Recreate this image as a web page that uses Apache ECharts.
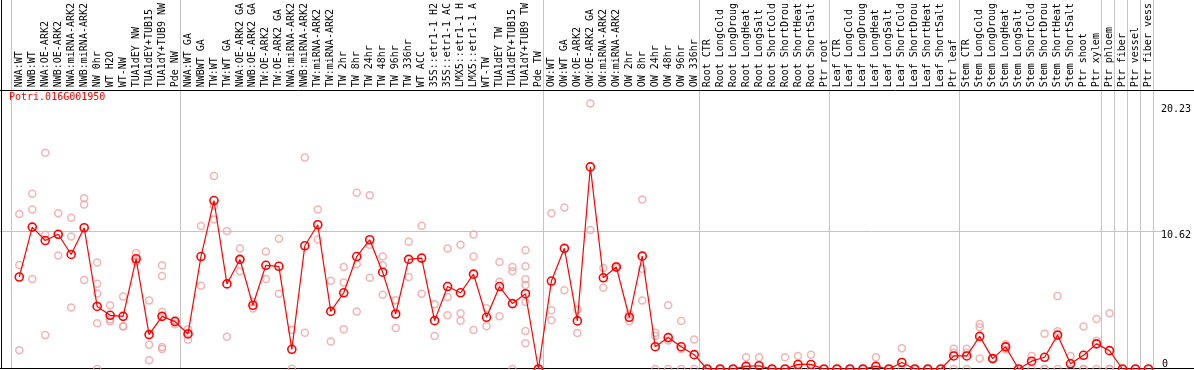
<!DOCTYPE html>
<html><head><meta charset="utf-8">
<script src="https://cdn.jsdelivr.net/npm/echarts@6/dist/echarts.min.js"></script>
<style>html,body{margin:0;padding:0;background:#fff;overflow:hidden}#c{width:1194px;height:370px}</style>
</head><body><div id="c"></div>
<script>
const geneId = 'Potri.016G001950';
const categories = [
 'NWA:WT','NWB:WT','NWA:OE-ARK2','NWB:OE-ARK2','NWA:miRNA-ARK2','NWB:miRNA-ARK2','NW 0hr','WT H2O','WT-NW','TUA1dEY NW','TUA1dEY+TUB15','TUA1dY+TUB9 NW','Pde NW',
 'NWA:WT GA','NWBWT GA','TW:WT','TW:WT GA','NWA:OE-ARK2 GA','NWB:OE-ARK2 GA','TW:OE-ARK2','TW:OE-ARK2 GA','NWA:miRNA-ARK2','NWB:miRNA-ARK2','TW:miRNA-ARK2','TW:miRNA-ARK2','TW 2hr','TW 8hr','TW 24hr','TW 48hr','TW 96hr','TW 336hr','WT ACC','35S::etr1-1 H2','35S::etr1-1 AC','LMX5::etr1-1 H','LMX5::etr1-1 A','WT-TW','TUA1dEY TW','TUA1dEY+TUB15','TUA1dY+TUB9 TW','Pde TW',
 'OW:WT','OW:WT GA','OW:OE-ARK2','OW:OE-ARK2 GA','OW:miRNA-ARK2','OW:miRNA-ARK2','OW 2hr','OW 8hr','OW 24hr','OW 48hr','OW 96hr','OW 336hr',
 'Root CTR','Root LongCold','Root LongDroug','Root LongHeat','Root LongSalt','Root ShortCold','Root ShortDrou','Root ShortHeat','Root ShortSalt','Ptr root',
 'Leaf CTR','Leaf LongCold','Leaf LongDroug','Leaf LongHeat','Leaf LongSalt','Leaf ShortCold','Leaf ShortDrou','Leaf ShortHeat','Leaf ShortSalt','Ptr leaf',
 'Stem CTR','Stem LongCold','Stem LongDroug','Stem LongHeat','Stem LongSalt','Stem ShortCold','Stem ShortDrou','Stem ShortHeat','Stem ShortSalt','Ptr shoot',
 'Ptr xylem','Ptr phloem','Ptr fiber','Ptr vessel','Ptr fiber vess'
];
const means = [
 7.06,10.89,9.86,10.34,8.79,10.84,4.8,4.12,4.04,8.46,2.64,4.04,3.64,
 2.69,8.63,12.93,6.53,8.41,4.89,7.96,7.88,1.51,9.46,11.07,4.42,5.85,8.63,9.92,7.43,4.22,8.41,8.51,3.71,6.33,5.85,7.28,3.97,6.33,5.02,5.78,0,
 6.75,9.26,3.69,15.51,7.0,7.83,3.97,8.66,1.71,2.41,1.71,1.1,
 0,0,0,0.2,0.25,0,0,0.35,0.35,0,
 0,0,0,0.2,0,0.5,0,0,0,1.0,
 1.0,2.5,0.8,1.7,0,0.6,0.9,2.6,0.4,1.05,
 1.93,1.41,0,0,0
];
const replicates = [
 [11.9,7.98,1.43],[13.45,12.25,6.9],[16.6,10.3,2.6],[11.95,10.34,8.71],[11.6,10.17,4.72],[13.1,12.63,6.83],[8.18,6.55,5.8,3.51,0],[4.9,3.79,3.64],[5.57,3.29,3.26],[8.91,8.21,8.26],[5.25,1.86,0.68],[7.96,7.13,4.39,1.68,1.53],[3.74,3.44,3.74],
 [3.06,2.24,2.77],[10.97,6.38],[14.81,12.52,11.47],[10.6,2.48],[9.24,7.51,8.41],[5.14,4.65],[9.01,6.9],[9.99,5.78],[2.99,0.02],[16.24,2.79],[12.25,9.94],[6.78,2.11],[7.83,6.63,3.06],[13.53,8.03,4.42],[13.33,9.54,7.0],[8.63,7.96,5.7],[5.27,3.14],[9.77,7.06],[10.99,5.78],[4.97,2.54],[9.24,5.52,4.12],[9.54,4.27,3.71],[10.32,8.63,2.99],[4.67,3.29],[8.21,6.7,4.04],[7.83,7.51,0],[9.11,7.88,6.88,6.45,5.14,2.91,1.98],[0,0],
 [11.95,4.5,3.74],[12.4,6.05],[4.54,2.76],[20.38,10.67],[7.76,6.23],[7.9,7.76],[4.22,3.67],[13.0,7.7,5.25],[2.79,2.54,0],[4.89,2.18,0],[3.69,1.53,0],[2.26,0],
 [0,0],[0,0],[0,0],[0.9,0],[0.9,0],[0,0],[0.9,0],[1.0,0],[1.1,0],[0],
 [0,0],[0,0],[0,0],[0.9,0],[0,0],[1.6,0],[0,0],[0,0],[0,0],[1.55,1.25,0],
 [1.55,1.25,0],[3.45,3.2,0.8],[0.8,0.8],[1.9,1.7,1.5],[0,0],[1.0,0],[2.7,0,0],[5.6,2.9,0],[1.0,0],[3.26,0,0],
 [3.84,2.16,0],[4.27,0,0],[0],[0],[0]
];
const separatorStarts = [0,13,41,53,63,73,84,85,86,87,88];
const yLabelTicks = [10.62, 20.23];
const yZeroTick = [0];
const yGridValue = 10.62;

const scatterData = [];
replicates.forEach((arr, i) => arr.forEach(v => scatterData.push([i, v])));

const FONT = 'DejaVu Sans Mono';
const chart = echarts.init(document.getElementById('c'), null, {renderer: 'canvas'});
chart.setOption({
  animation: false,
  title: {text: geneId, left: 4, top: 87, textStyle: {color: '#ff0000', fontSize: 10, fontFamily: FONT, fontWeight: 'normal'}},
  grid: {left: 12.8, right: 37.2, top: 85, bottom: 1, containLabel: false},
  xAxis: {
    type: 'category', position: 'top', data: categories, boundaryGap: true,
    axisLine: {show: false}, axisTick: {show: false}, splitLine: {show: false},
    axisLabel: {interval: 0, rotate: 90, margin: 3, color: '#000', fontSize: 10, fontFamily: FONT}
  },
  yAxis: [
    {type: 'value', min: 0, max: 21.39, position: 'right', axisLine: {show: false}, axisTick: {show: false}, splitLine: {show: false},
     axisLabel: {customValues: yLabelTicks, verticalAlign: 'top', align: 'left', margin: 6, lineHeight: 9, color: '#000', fontSize: 10, fontFamily: FONT}},
    {type: 'value', min: 0, max: 21.39, position: 'right', axisLine: {show: false}, axisTick: {show: false}, splitLine: {show: false},
     axisLabel: {customValues: yZeroTick, verticalAlign: 'bottom', align: 'left', margin: 7, color: '#000', fontSize: 10, fontFamily: FONT}}
  ],
  series: [
    {type: 'scatter', data: scatterData, symbol: 'circle', symbolSize: 7, z: 3,
     itemStyle: {color: 'rgba(0,0,0,0)', borderColor: '#f0a0a0', borderWidth: 1.5}},
    {type: 'line', data: means, symbol: 'circle', symbolSize: 8, z: 4,
     lineStyle: {color: '#ff0000', width: 1.2},
     itemStyle: {color: 'rgba(255,0,0,0)', borderColor: '#ff0000', borderWidth: 1.6}}
  ]
});

// decorative frame and separators placed through the axes' own scales
const c0 = chart.convertToPixel({xAxisIndex: 0}, 0);
const c1 = chart.convertToPixel({xAxisIndex: 0}, 1);
const band = c1 - c0;
const gy = chart.convertToPixel({yAxisIndex: 0}, yGridValue);
const y0 = chart.convertToPixel({yAxisIndex: 0}, 0);
const topY = chart.convertToPixel({yAxisIndex: 0}, 21.39);
const gfx = [];
separatorStarts.forEach(i => {
  const x = Math.round(c0 + i * band - 8) + 0.5;
  gfx.push({type: 'line', z: 1, silent: true, shape: {x1: x, y1: 0, x2: x, y2: y0}, style: {stroke: '#c4c4c4', lineWidth: 1}});
});
gfx.push({type: 'line', z: 1, silent: true, shape: {x1: 0, y1: Math.round(gy) + 0.5, x2: 1162, y2: Math.round(gy) + 0.5}, style: {stroke: '#c4c4c4', lineWidth: 1}});
gfx.push({type: 'line', z: 2, silent: true, shape: {x1: 0, y1: Math.round(topY) + 0.5, x2: 1194, y2: Math.round(topY) + 0.5}, style: {stroke: '#000', lineWidth: 1}});
gfx.push({type: 'line', z: 2, silent: true, shape: {x1: 0, y1: Math.round(y0) - 0.5, x2: 1194, y2: Math.round(y0) - 0.5}, style: {stroke: '#000', lineWidth: 1}});
gfx.push({type: 'line', z: 2, silent: true, shape: {x1: 1.5, y1: 0, x2: 1.5, y2: y0}, style: {stroke: '#000', lineWidth: 1}});
chart.setOption({graphic: gfx});
</script></body></html>
